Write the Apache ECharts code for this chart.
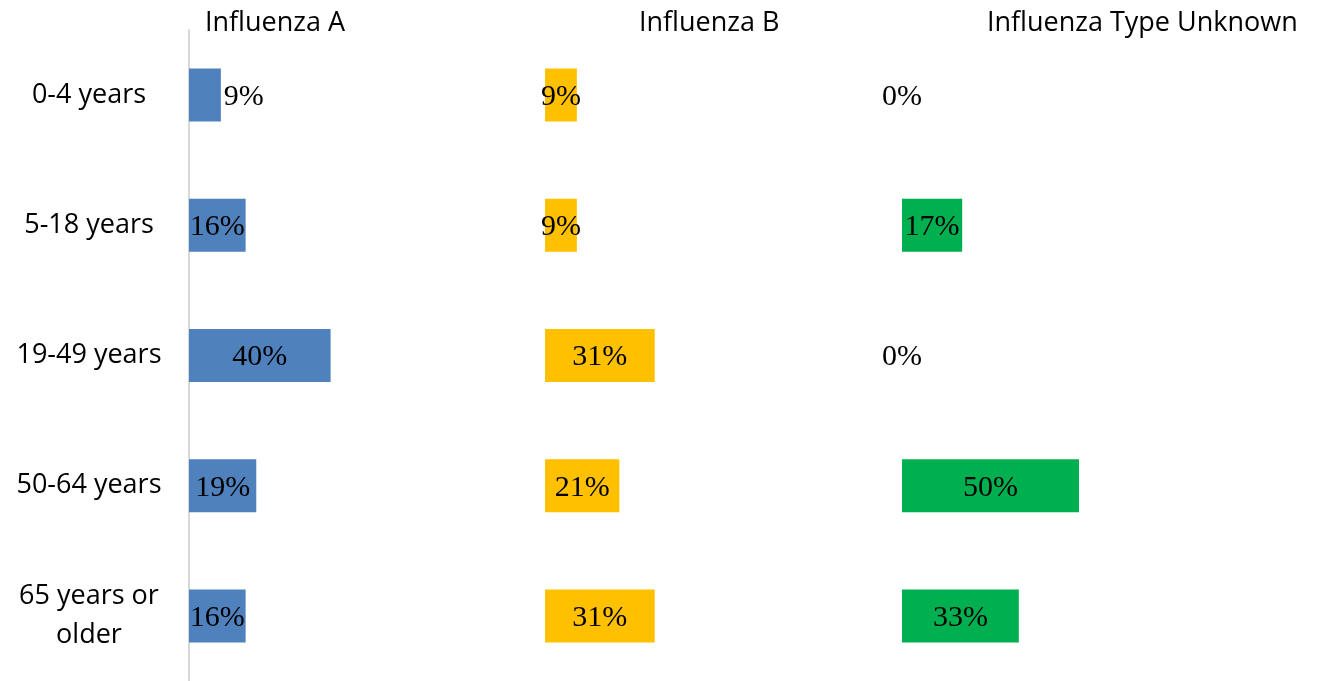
<!DOCTYPE html>
<html>
<head>
<meta charset="utf-8">
<script src="https://cdn.jsdelivr.net/npm/echarts@6/dist/echarts.min.js"></script>
<style>html,body{margin:0;padding:0;background:#fff}#c{width:1317px;height:681px}</style>
</head>
<body>
<div id="c"></div>
<script>
const categories = ['0-4 years', '5-18 years', '19-49 years', '50-64 years', '65 years or\nolder'];
const seriesNames = ['Influenza A', 'Influenza B', 'Influenza Type Unknown'];
const fluA = [9, 16, 40, 19, 16];
const fluB = [9, 9, 31, 21, 31];
const fluUnknown = [0, 17, 0, 50, 33];

const colors = ['#4f81bd', '#ffc000', '#00b050'];
const panelLefts = [189, 545, 902];
const titleLefts = [200, 634, 982];
const allData = [fluA, fluB, fluUnknown];

const chart = echarts.init(document.getElementById('c'));
const grids = [], xAxes = [], yAxes = [], series = [], titles = [];
for (let i = 0; i < 3; i++) {
  grids.push({left: panelLefts[i], width: 354, top: 30, height: 655, containLabel: false});
  xAxes.push({type: 'value', gridIndex: i, min: 0, max: 100, show: false});
  yAxes.push({
    type: 'category', gridIndex: i, data: categories, inverse: true,
    axisLine: {show: i === 0, lineStyle: {color: '#d9d9d9', width: 2}},
    axisTick: {show: false},
    axisLabel: {show: i === 0, margin: 100, align: 'center', color: '#000',
      fontFamily: 'Open Sans', fontSize: 27, lineHeight: 39},
    splitLine: {show: false}
  });
  titles.push({text: seriesNames[i], left: titleLefts[i], top: 5,
    textStyle: {fontFamily: 'Open Sans', fontSize: 27, fontWeight: 'normal', color: '#000'}});
  series.push({
    type: 'bar', name: seriesNames[i], xAxisIndex: i, yAxisIndex: i,
    barWidth: 53, itemStyle: {color: colors[i]},
    data: allData[i].map((v, j) => {
      const d = {value: v};
      if (i === 0 && j === 0) d.label = {position: 'right', distance: 3};
      return d;
    }),
    label: {show: true, position: 'inside', formatter: '{c}%', color: '#000',
      fontFamily: 'Liberation Serif', fontSize: 30, offset: [0, 2]},
    silent: true, animation: false
  });
}
chart.setOption({animation: false, title: titles, grid: grids, xAxis: xAxes, yAxis: yAxes, series: series});
</script>
</body>
</html>
